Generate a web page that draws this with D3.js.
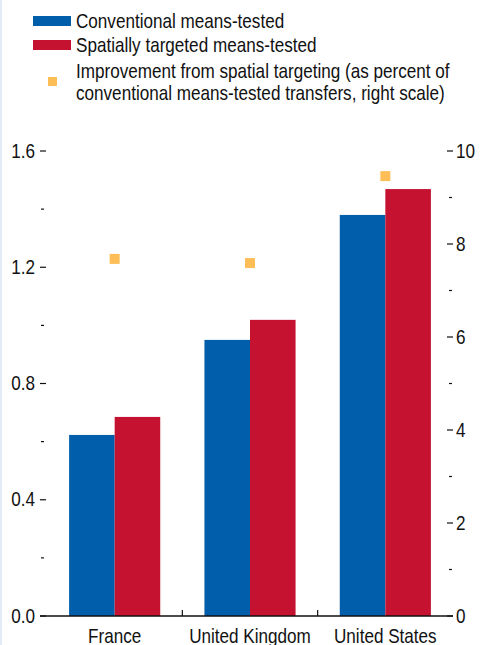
<!DOCTYPE html>
<html><head><meta charset="utf-8">
<script src="https://cdn.jsdelivr.net/npm/d3@7/dist/d3.min.js"></script>
<style>
body{margin:0;background:#fff;}
svg text{font-family:"Liberation Sans",Arial,sans-serif;fill:#111;}
</style></head>
<body><svg id="c" width="480" height="645"></svg>
<script>
const categories = ["France","United Kingdom","United States"];
const conventional = [0.623, 0.95, 1.38];
const spatial = [0.685, 1.019, 1.469];
const improvement = [7.68, 7.59, 9.46];
const leftTicks = [0.0, 0.4, 0.8, 1.2, 1.6];
const rightTicks = [0, 2, 4, 6, 8, 10];
const seriesNames = ["Conventional means-tested","Spatially targeted means-tested"];
const improvementLabel = ["Improvement from spatial targeting (as percent of","conventional means-tested transfers, right scale)"];

const colors = {blue:"#005EAA", red:"#C41230", orange:"#FDBE57"};
const svg = d3.select("#c");
const fs = 21, sx = 0.815;

function label(parent, xx, yy, txt, anchor, size, dy){
  return parent.append("text")
    .attr("transform",`translate(${xx},${yy}) scale(${sx},1)`)
    .attr("text-anchor",anchor||"start").attr("font-size",size||fs)
    .attr("dy",dy||0).text(txt);
}

svg.append("rect").attr("x",0).attr("y",0).attr("width",2).attr("height",645).attr("fill","#e3ebf6");

const x0 = 47, x1 = 453, yTop = 151, yBot = 616;
const x = d3.scaleBand().domain(categories).range([x0,x1]).paddingInner(0).paddingOuter(0);
const inner = d3.scaleBand().domain(["c","s"]).range([0,x.bandwidth()]).paddingOuter(0.485).paddingInner(0);
const yL = d3.scaleLinear().domain([0,1.6]).range([yBot,yTop]);
const yR = d3.scaleLinear().domain([0,10]).range([yBot,yTop]);

// bars
const g = svg.append("g");
categories.forEach((c,i)=>{
  g.append("rect").attr("x",x(c)+inner("c")).attr("width",inner.bandwidth())
   .attr("y",yL(conventional[i])).attr("height",yL(0)-yL(conventional[i])).attr("fill",colors.blue);
  g.append("rect").attr("x",x(c)+inner("s")).attr("width",inner.bandwidth())
   .attr("y",yL(spatial[i])).attr("height",yL(0)-yL(spatial[i])).attr("fill",colors.red);
  const cx = x(c)+x.bandwidth()/2;
  g.append("rect").attr("x",cx-5).attr("y",yR(improvement[i])-5).attr("width",10).attr("height",10).attr("fill",colors.orange);
});

// left axis
const leftAx = svg.append("g");
leftTicks.forEach(t=>{
  leftAx.append("line").attr("x1",40).attr("x2",46).attr("y1",yL(t)).attr("y2",yL(t)).attr("stroke","#111").attr("stroke-width",1.2);
  label(leftAx, 35, yL(t), d3.format(".1f")(t), "end", fs, "0.31em");
});
for(let i=0;i<leftTicks.length-1;i++){
  const m=(leftTicks[i]+leftTicks[i+1])/2;
  leftAx.append("line").attr("x1",41).attr("x2",44).attr("y1",yL(m)).attr("y2",yL(m)).attr("stroke","#111").attr("stroke-width",1.2);
}
// right axis
const rightAx = svg.append("g");
rightTicks.forEach(t=>{
  rightAx.append("line").attr("x1",447).attr("x2",453).attr("y1",yR(t)).attr("y2",yR(t)).attr("stroke","#111").attr("stroke-width",1.2);
  label(rightAx, 456, yR(t), String(t), "start", fs, "0.31em");
});
for(let i=0;i<rightTicks.length-1;i++){
  const m=(rightTicks[i]+rightTicks[i+1])/2;
  rightAx.append("line").attr("x1",449).attr("x2",452).attr("y1",yR(m)).attr("y2",yR(m)).attr("stroke","#111").attr("stroke-width",1.2);
}
// baseline
svg.append("line").attr("x1",40).attr("x2",453).attr("y1",yBot).attr("y2",yBot).attr("stroke","#111").attr("stroke-width",1.3);
// category separators
categories.slice(1).forEach(c=>{
  svg.append("line").attr("x1",x(c)).attr("x2",x(c)).attr("y1",yBot-6).attr("y2",yBot).attr("stroke","#111").attr("stroke-width",1.2);
});
// category labels
categories.forEach(c=>{
  label(svg, x(c)+x.bandwidth()/2, 642.5, c, "middle", fs);
});

// legend
const lg = svg.append("g");
lg.append("rect").attr("x",33).attr("y",16).attr("width",38).attr("height",10).attr("fill",colors.blue);
label(lg, 76, 27.5, seriesNames[0]);
lg.append("rect").attr("x",33).attr("y",40).attr("width",38).attr("height",10).attr("fill",colors.red);
label(lg, 76, 51.5, seriesNames[1]);
lg.append("rect").attr("x",48).attr("y",77).attr("width",9).attr("height",9).attr("fill",colors.orange);
label(lg, 76, 78, improvementLabel[0]);
label(lg, 76, 100, improvementLabel[1]);
</script></body></html>
